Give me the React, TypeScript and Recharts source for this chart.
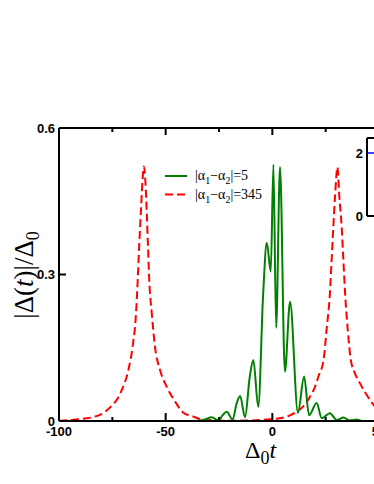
import React from 'react';
import { LineChart, Line, XAxis, YAxis } from 'recharts';

// Red dashed curve |α1−α2|=345
const redX = [-100, -94, -88, -84, -79, -75.3, -72.5, -70.6, -67.5, -65.5, -63.9, -63.1, -62.4, -61.6, -60.9, -60.2, -59.5, -58.9, -58.3, -57.7, -56.5, -55.0, -52.6, -49.5, -45.6, -41.7, -37, -33.9, -26, -18, -10, -1, 3.6, 8, 11.4, 14.5, 17.7, 20, 21.6, 24, 25.5, 27, 27.8, 28.6, 29.4, 30.5, 31.4, 32.5, 33.3, 34.1, 35.3, 36.8, 38.5, 41.1, 45.8, 48.1, 50];
const redY = [0.0005, 0.002, 0.005, 0.008, 0.017, 0.031, 0.046, 0.063, 0.104, 0.152, 0.22, 0.289, 0.36, 0.43, 0.49, 0.521, 0.49, 0.43, 0.36, 0.289, 0.22, 0.152, 0.104, 0.07, 0.04, 0.017, 0.009, 0.004, 0.001, 0.0005, 0.001, 0.0035, 0.0055, 0.011, 0.019, 0.03, 0.05, 0.07, 0.091, 0.125, 0.19, 0.262, 0.33, 0.398, 0.46, 0.52, 0.46, 0.398, 0.33, 0.262, 0.19, 0.125, 0.1, 0.077, 0.043, 0.03, 0.024];

// Green solid curve |α1−α2|=5
const greenX = [-35.4, -31.5, -28.4, -25.3, -23.3, -21.4, -18.6, -16.8, -15.1, -12.8, -10.6, -8.9, -6.6, -4.3, -2.6, -0.73, 0.5, 1.8, 3.6, 5.9, 8.3, 12.0, 14.9, 17.2, 20.8, 23.1, 27, 30.2, 33.3, 36.4, 39.5, 41.8];
const greenY = [0, 0.003, 0.0076, 0.001, 0.012, 0.019, 0.003, 0.035, 0.051, 0.0076, 0.09, 0.125, 0.029, 0.26, 0.365, 0.306, 0.525, 0.191, 0.52, 0.101, 0.244, 0.017, 0.091, 0.012, 0.037, 0.006, 0.016, 0.002, 0.007, 0.001, 0.003, 0];

// Inset (blue line)
const insetX = [0, 1];
const insetY = [2, 2];
const insetTicks = [0, 2];

const xTicks = [-100, -75, -50, -25, 0, 25, 50];
const xLabelTicks = [-100, -50, 0, 50];
const yTicks = [0, 0.3, 0.6];

const redData = redX.map((x, i) => ({ x, y: redY[i] }));
const greenData = greenX.map((x, i) => ({ x, y: greenY[i] }));
const insetData = insetX.map((x, i) => ({ x, y: insetY[i] }));

const SANS = 'Liberation Sans, Arial, sans-serif';
const SERIF = 'Liberation Serif, Times New Roman, serif';

const BottomTick = (props: any) => {
  const { x, y, payload } = props;
  const major = xLabelTicks.includes(payload.value);
  return (
    <g>
      <line x1={x} x2={x} y1={y} y2={y - (major ? 8 : 4)} stroke="#000" strokeWidth={2} />
      {major && (
        <text x={x} y={y + 15} textAnchor="middle" fontFamily={SANS} fontWeight="bold" fontSize={13} fill="#000">
          {payload.value}
        </text>
      )}
    </g>
  );
};

const TopTick = (props: any) => {
  const { x, y, payload } = props;
  const major = xLabelTicks.includes(payload.value);
  return <line x1={x} x2={x} y1={y} y2={y + (major ? 7 : 4)} stroke="#000" strokeWidth={2} />;
};

const LeftTick = (props: any) => {
  const { x, y, payload } = props;
  const v = payload.value;
  const showLine = v !== 0 && v !== 0.6;
  return (
    <g>
      {showLine && <line x1={x} x2={x + 7} y1={y} y2={y} stroke="#000" strokeWidth={2} />}
      <text x={x - 4} y={y} dy="0.36em" textAnchor="end" fontFamily={SANS} fontWeight="bold" fontSize={13} fill="#000">
        {String(v)}
      </text>
    </g>
  );
};

const InsetTick = (props: any) => {
  const { x, y, payload } = props;
  return (
    <text x={x - 4} y={y} dy="0.36em" textAnchor="end" fontFamily={SANS} fontWeight="bold" fontSize={13} fill="#000">
      {String(payload.value)}
    </text>
  );
};

export default function App() {
  return (
    <div style={{ position: 'absolute', left: 0, top: 0, width: 374, height: 484, overflow: 'hidden', background: '#fff' }}>
      <div style={{ position: 'absolute', left: 0, top: 0 }}>
        <LineChart width={430} height={484} margin={{ top: 118, right: 51, bottom: 53, left: 49 }}>
          <XAxis
            xAxisId="b"
            type="number"
            dataKey="x"
            domain={[-100, 50]}
            allowDataOverflow
            ticks={xTicks}
            interval={0}
            height={10}
            tickSize={0}
            tickMargin={0}
            tickLine={false}
            axisLine={{ stroke: '#000', strokeWidth: 2 }}
            tick={<BottomTick />}
          />
          <XAxis
            xAxisId="t"
            orientation="top"
            type="number"
            dataKey="x"
            domain={[-100, 50]}
            allowDataOverflow
            ticks={xTicks}
            interval={0}
            height={10}
            tickSize={0}
            tickMargin={0}
            tickLine={false}
            axisLine={{ stroke: '#000', strokeWidth: 2 }}
            tick={<TopTick />}
          />
          <YAxis
            type="number"
            domain={[0, 0.6]}
            allowDataOverflow
            ticks={yTicks}
            interval={0}
            width={10}
            tickSize={0}
            tickMargin={0}
            tickLine={false}
            axisLine={{ stroke: '#000', strokeWidth: 2 }}
            tick={<LeftTick />}
          />
          <Line
            xAxisId="b"
            data={redData}
            dataKey="y"
            type="monotone"
            stroke="#ff0000"
            strokeWidth={2}
            strokeDasharray="8 4"
            dot={false}
            isAnimationActive={false}
          />
          <Line
            xAxisId="b"
            data={greenData}
            dataKey="y"
            type="monotone"
            stroke="#008000"
            strokeWidth={2}
            dot={false}
            isAnimationActive={false}
          />
        </LineChart>
      </div>
      <div style={{ position: 'absolute', left: 340, top: 128 }}>
        <LineChart width={140} height={100} margin={{ top: 0, right: 0, bottom: 2, left: 17 }}>
          <XAxis xAxisId="b" type="number" dataKey="x" domain={[0, 1]} height={10} tick={false} tickLine={false} axisLine={{ stroke: '#000', strokeWidth: 2 }} />
          <XAxis xAxisId="t" orientation="top" type="number" dataKey="x" domain={[0, 1]} height={10} tick={false} tickLine={false} axisLine={{ stroke: '#000', strokeWidth: 2 }} />
          <YAxis
            type="number"
            domain={[0, 2.48]}
            allowDataOverflow
            ticks={insetTicks}
            interval={0}
            width={10}
            tickSize={0}
            tickMargin={0}
            tickLine={false}
            axisLine={{ stroke: '#000', strokeWidth: 2 }}
            tick={<InsetTick />}
          />
          <Line xAxisId="b" data={insetData} dataKey="y" type="linear" stroke="#0000ff" strokeWidth={1.5} dot={false} isAnimationActive={false} />
        </LineChart>
      </div>
      <svg width={374} height={484} style={{ position: 'absolute', left: 0, top: 0, pointerEvents: 'none' }}>
        {/* legend */}
        <line x1={165} x2={187} y1={176} y2={176} stroke="#008000" strokeWidth={2} />
        <text x={195} y={180} fontFamily={SERIF} fontSize={14} fill="#000">
          |α<tspan fontSize={10} dy={4}>1</tspan><tspan dy={-4}>−α</tspan><tspan fontSize={10} dy={4}>2</tspan><tspan dy={-4}>|=5</tspan>
        </text>
        <line x1={165} x2={187} y1={194.5} y2={194.5} stroke="#ff0000" strokeWidth={2} strokeDasharray="8 4" />
        <text x={195} y={199} fontFamily={SERIF} fontSize={14} fill="#000">
          |α<tspan fontSize={10} dy={4}>1</tspan><tspan dy={-4}>−α</tspan><tspan fontSize={10} dy={4}>2</tspan><tspan dy={-4}>|=345</tspan>
        </text>
        {/* axis titles */}
        <text x={245} y={458} fontFamily={SERIF} fontSize={24} fill="#000">
          Δ<tspan fontSize={18} dy={6}>0</tspan><tspan dy={-6} fontStyle="italic">t</tspan>
        </text>
        <text transform="translate(33,275) rotate(-90)" textAnchor="middle" fontFamily={SERIF} fontSize={27} fill="#000">
          |Δ(<tspan fontStyle="italic">t</tspan>)|/Δ<tspan fontSize={18} dy={6}>0</tspan>
        </text>
      </svg>
    </div>
  );
}
